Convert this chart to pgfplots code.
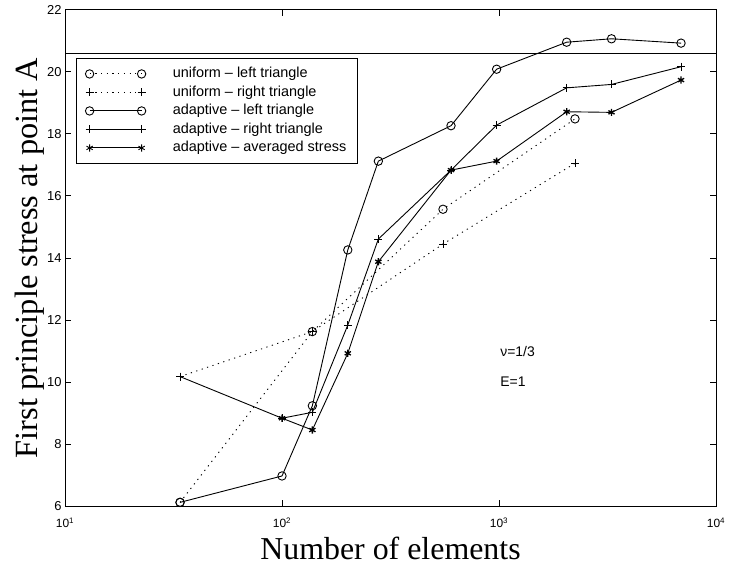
\documentclass[border=0pt]{standalone}
\usepackage{pgfplots}
\pgfplotsset{compat=1.18}
\usepackage{fontspec}
\setmainfont{Liberation Serif}
\newfontfamily\hv{Liberation Sans}
\begin{document}
\begin{tikzpicture}
\begin{axis}[
  name=ax,
  scale only axis, width=651bp, height=496.8bp,
  xmode=log, log basis x=10,
  xmin=10, xmax=10000, ymin=6, ymax=22,
  xtick={10,100,1000,10000},
  xticklabels={10\textsuperscript{1},10\textsuperscript{2},10\textsuperscript{3},10\textsuperscript{4}},
  ytick={6,8,...,22},
  /pgf/number format/assume math mode=true,
  yticklabel style={font=\hv\fontsize{13}{15}\selectfont},
  xticklabel style={font=\hv\fontsize{12}{14}\selectfont, anchor=base, yshift=-21.5bp},
  major tick length=6bp, minor tick length=3.5bp,
  every tick/.style={black, line width=0.8bp},
  axis line style={line width=0.8bp},
  xlabel={Number of elements},
  xlabel style={font=\fontsize{32}{36}\selectfont, at={(axis description cs:0.5,-0.1059)}, anchor=base},
  ylabel={First principle stress at point A},
  ylabel style={font=\fontsize{32.5}{36}\selectfont, at={(axis description cs:-0.043,0.5)}, anchor=base},
  legend cell align=left,
  legend image code/.code={\draw[mark options={solid}] plot coordinates {(0bp,0bp) (52bp,0bp)};},
  legend style={at={(axis description cs:0.0169,0.902)}, anchor=north west, draw=black, line width=0.8bp,
    font=\hv\fontsize{14.5}{16}\selectfont, inner xsep=9bp, inner ysep=6bp, row sep=0bp,
    nodes={inner sep=2bp, text height=11.3bp, text depth=3.2bp},
    /tikz/every odd column/.append style={column sep=25bp}},
]
\addplot[black, line width=0.9bp, dash pattern=on 1.2bp off 4.5bp, mark=o, mark size=4.2bp, mark options={solid}]
  coordinates {(33.9,6.13) (138,11.63) (552,15.57) (2240,18.48)};
\addlegendentry{uniform – left triangle}
\addplot[black, line width=0.9bp, dash pattern=on 1.2bp off 4.5bp, mark=+, mark size=4bp, mark options={solid}]
  coordinates {(33.9,10.18) (138,11.63) (552,14.45) (2240,17.05)};
\addlegendentry{uniform – right triangle}
\addplot[black, line width=0.9bp, mark=o, mark size=4.2bp, mark options={solid}]
  coordinates {(33.9,6.13) (100,6.98) (138,9.24) (201,14.26) (278,17.12) (601,18.26) (975,20.08) (2050,20.95) (3300,21.06) (6900,20.92)};
\addlegendentry{adaptive – left triangle}
\addplot[black, line width=0.9bp, mark=+, mark size=4bp, mark options={solid}]
  coordinates {(33.9,10.18) (100,8.84) (138,9.03) (201,11.84) (278,14.61) (601,16.83) (975,18.28) (2050,19.48) (3300,19.59) (6900,20.16)};
\addlegendentry{adaptive – right triangle}
\addplot[black, line width=0.9bp, mark=asterisk, mark size=3.6bp, mark options={solid, line width=1.3bp}]
  coordinates {(100,8.84) (138,8.46) (201,10.93) (278,13.88) (601,16.83) (975,17.12) (2050,18.71) (3300,18.69) (6900,19.73)};
\addlegendentry{adaptive – averaged stress}
\addplot[black, line width=0.9bp, forget plot] coordinates {(10,20.6) (10000,20.6)};
\node[anchor=west, font=\hv\fontsize{14}{16}\selectfont, inner sep=0pt] at (axis cs:1012,10.98) {ν=1/3};
\node[anchor=west, font=\hv\fontsize{14}{16}\selectfont, inner sep=0pt] at (axis cs:1012,10.02) {E=1};
\end{axis}
\pgfresetboundingbox
\path[use as bounding box] ([xshift=-65bp,yshift=-61.6bp]ax.south west) rectangle ([xshift=13bp,yshift=9.6bp]ax.north east);
\end{tikzpicture}
\end{document}
